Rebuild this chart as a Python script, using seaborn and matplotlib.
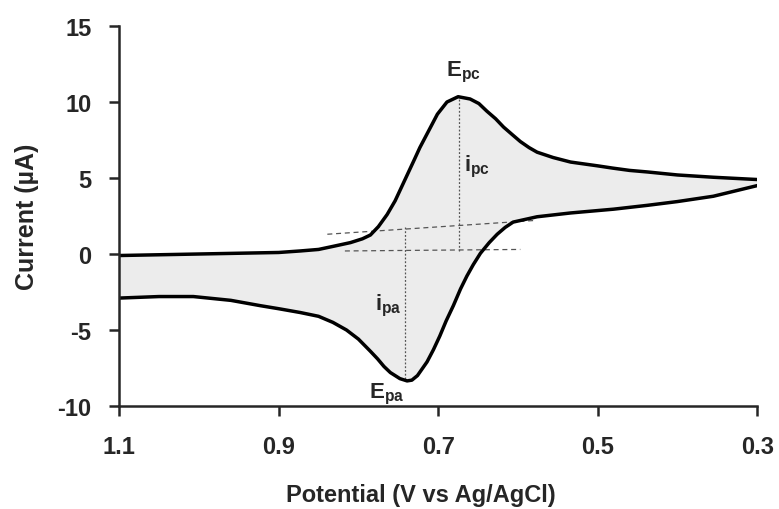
import numpy as np
import pandas as pd
import matplotlib
matplotlib.use('Agg')
import matplotlib.pyplot as plt
import seaborn as sns

# Forward scan (1.1 V -> 0.3 V)
fwd_potential = [1.10, 1.05, 1.00, 0.95, 0.90, 0.873, 0.85, 0.832, 0.81, 0.795, 0.785, 0.775,
                 0.764, 0.754, 0.746, 0.738, 0.730, 0.723, 0.712, 0.701, 0.689, 0.675, 0.660,
                 0.649, 0.639, 0.628, 0.618, 0.607, 0.597, 0.586, 0.576, 0.556, 0.534, 0.50,
                 0.481, 0.46, 0.438, 0.40, 0.355, 0.30]
fwd_current = [-0.1, -0.05, 0.0, 0.05, 0.1, 0.2, 0.3, 0.5, 0.75, 1.0, 1.25, 1.8,
               2.6, 3.5, 4.4, 5.3, 6.2, 7.0, 8.1, 9.2, 10.0, 10.35, 10.2,
               9.9, 9.4, 8.9, 8.35, 7.85, 7.4, 7.0, 6.7, 6.35, 6.05, 5.8,
               5.65, 5.5, 5.4, 5.2, 5.05, 4.9]

# Reverse scan (0.3 V -> 1.1 V)
rev_potential = [0.30, 0.355, 0.40, 0.438, 0.48, 0.534, 0.576, 0.606, 0.616, 0.626, 0.636,
                 0.647, 0.656, 0.664, 0.672, 0.681, 0.690, 0.698, 0.706, 0.714, 0.726, 0.733,
                 0.739, 0.748, 0.760, 0.768, 0.776, 0.785, 0.80, 0.815, 0.832, 0.85, 0.873,
                 0.90, 0.923, 0.96, 1.007, 1.05, 1.10]
rev_current = [4.5, 3.8, 3.45, 3.2, 2.95, 2.7, 2.45, 2.1, 1.75, 1.3, 0.75,
               0.05, -0.7, -1.45, -2.3, -3.4, -4.4, -5.4, -6.3, -7.1, -8.0, -8.3,
               -8.35, -8.2, -7.8, -7.4, -6.9, -6.4, -5.6, -5.0, -4.5, -4.1, -3.85,
               -3.6, -3.4, -3.05, -2.8, -2.8, -2.9]

# Peak markers and baselines
epc, ipc_top, ipc_base = 0.674, 10.4, 0.2
epa, ipa_top, ipa_base = 0.741, 1.8, -8.35
base1_x, base1_y = [0.839, 0.581], [1.3, 2.2]
base2_x, base2_y = [0.817, 0.597], [0.2, 0.3]

x_ticks = [1.1, 0.9, 0.7, 0.5, 0.3]
y_ticks = [-10, -5, 0, 5, 10, 15]

sns.set_style('ticks')
plt.rcParams['font.family'] = ['Liberation Sans', 'DejaVu Sans']
plt.rcParams['font.weight'] = 'bold'
plt.rcParams['axes.unicode_minus'] = False
plt.rcParams['mathtext.fontset'] = 'custom'
plt.rcParams['mathtext.rm'] = 'Liberation Sans'
plt.rcParams['mathtext.bf'] = 'Liberation Sans:bold'

fwd = pd.DataFrame({'Potential': fwd_potential, 'Current': fwd_current})
rev = pd.DataFrame({'Potential': rev_potential, 'Current': rev_current})

fig, ax = plt.subplots(figsize=(7.79, 5.10), dpi=100)
fig.subplots_adjust(left=0.153, right=0.972, bottom=0.202, top=0.947)

# Light shading inside the voltammogram loop
ax.fill(fwd_potential + rev_potential, fwd_current + rev_current,
        color='#ececec', zorder=0, lw=0)

# Baselines and peak lines
ax.plot(base1_x, base1_y, color='#555555', lw=0.9, ls=(0, (4, 3)))
ax.plot(base2_x, base2_y, color='#555555', lw=0.9, ls=(0, (4, 3)))
ax.plot([epc, epc], [ipc_base, ipc_top], color='#555555', lw=0.9, ls=(0, (1.5, 1.5)))
ax.plot([epa, epa], [ipa_top, ipa_base], color='#555555', lw=0.9, ls=(0, (1.5, 1.5)))

sns.lineplot(data=fwd, x='Potential', y='Current', sort=False, color='black', lw=2.5,
             solid_joinstyle='round', ax=ax)
sns.lineplot(data=rev, x='Potential', y='Current', sort=False, color='black', lw=2.5,
             solid_joinstyle='round', ax=ax)

ax.text(0.668, 12.0, r'$\mathbf{E_{pc}}$', ha='center', va='center', fontsize=16)
ax.text(0.651, 5.8, r'$\mathbf{i_{pc}}$', ha='center', va='center', fontsize=16)
ax.text(0.763, -3.35, r'$\mathbf{i_{pa}}$', ha='center', va='center', fontsize=16)
ax.text(0.765, -9.2, r'$\mathbf{E_{pa}}$', ha='center', va='center', fontsize=16)

ax.set_xlim(1.1, 0.3)
ax.set_ylim(-10, 15)
ax.set_xticks(x_ticks)
ax.set_xticklabels([f'{v:.1f}' for v in x_ticks])
ax.set_yticks(y_ticks)
ax.tick_params(axis='both', labelsize=17, width=1.8, length=7, direction='out')
ax.tick_params(axis='x', pad=14)
ax.tick_params(axis='y', pad=13)
ax.set_xlabel('Potential (V vs Ag/AgCl)', fontsize=17, fontweight='bold')
ax.set_ylabel('Current (µA)', fontsize=18, fontweight='bold')
ax.xaxis.set_label_coords(0.472, -0.232)
ax.xaxis.label.set_va('center')
ax.yaxis.set_label_coords(-0.145, 0.5)
ax.yaxis.label.set_va('center')
for lbl in ax.get_xticklabels() + ax.get_yticklabels():
    lbl.set_fontweight('bold')
for side in ['left', 'bottom']:
    ax.spines[side].set_linewidth(1.8)
sns.despine(ax=ax)

plt.savefig('out.png', dpi=100)
